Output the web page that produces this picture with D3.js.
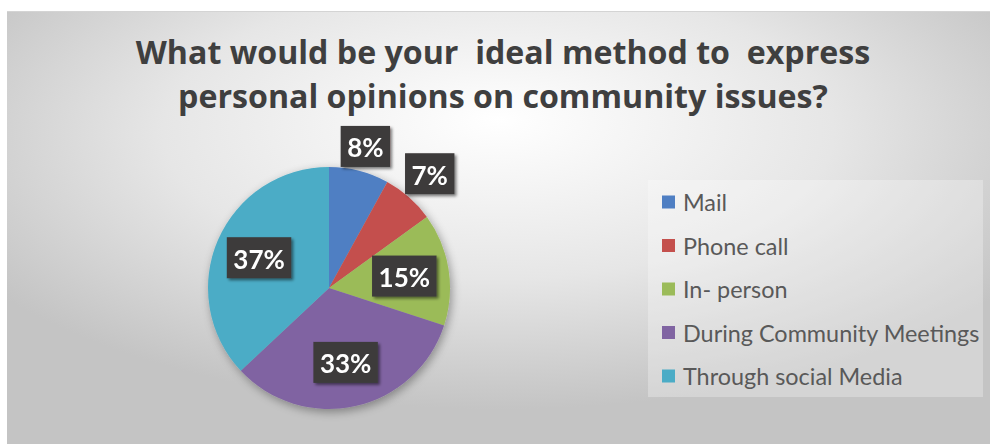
<!DOCTYPE html>
<html>
<head>
<meta charset="utf-8">
<script src="https://cdn.jsdelivr.net/npm/d3@7"></script>
<style>
  html, body { margin: 0; padding: 0; background: #ffffff; }
  svg { display: block; }
</style>
</head>
<body>
<svg id="chart" width="990" height="444"></svg>
<script>
// Survey results: preferred way to express opinions on community issues
const titleLines = [
  "What would be your  ideal method to  express",
  "personal opinions on community issues?"
];
const categories = [
  "Mail",
  "Phone call",
  "In- person",
  "During Community Meetings",
  "Through social Media"
];
const shares = [8, 7, 15, 33, 37];           // percent of respondents
const sliceColors = ["#4f7fc3", "#c4504d", "#9bbb59", "#8064a2", "#4bacc6"];

const W = 990, H = 444;
const svg = d3.select("#chart");
const defs = svg.append("defs");

// Chart area background: soft radial grey
const bg = defs.append("radialGradient")
  .attr("id", "bgGrad")
  .attr("cx", "0.5").attr("cy", "0.3").attr("r", "0.62")
  .attr("fx", "0.5").attr("fy", "0.25");
bg.append("stop").attr("offset", "0").attr("stop-color", "#ffffff");
bg.append("stop").attr("offset", "0.55").attr("stop-color", "#e6e6e6");
bg.append("stop").attr("offset", "1").attr("stop-color", "#c4c4c4");

// soft shadow behind the pie
const pieShadow = defs.append("filter").attr("id", "pieShadow")
  .attr("x", "-30%").attr("y", "-30%").attr("width", "160%").attr("height", "160%");
pieShadow.append("feGaussianBlur").attr("in", "SourceAlpha").attr("stdDeviation", 5).attr("result", "b");
pieShadow.append("feOffset").attr("in", "b").attr("dx", 2).attr("dy", 3).attr("result", "o");
pieShadow.append("feComponentTransfer").attr("in", "o").attr("result", "s")
  .append("feFuncA").attr("type", "linear").attr("slope", 0.35);
const pm = pieShadow.append("feMerge");
pm.append("feMergeNode").attr("in", "s");
pm.append("feMergeNode").attr("in", "SourceGraphic");

// small drop shadow for the data-label boxes
const boxShadow = defs.append("filter").attr("id", "boxShadow")
  .attr("x", "-30%").attr("y", "-30%").attr("width", "160%").attr("height", "160%");
boxShadow.append("feGaussianBlur").attr("in", "SourceAlpha").attr("stdDeviation", 1.5).attr("result", "b");
boxShadow.append("feOffset").attr("in", "b").attr("dx", 2).attr("dy", 2).attr("result", "o");
boxShadow.append("feComponentTransfer").attr("in", "o").attr("result", "s")
  .append("feFuncA").attr("type", "linear").attr("slope", 0.5);
const bm = boxShadow.append("feMerge");
bm.append("feMergeNode").attr("in", "s");
bm.append("feMergeNode").attr("in", "SourceGraphic");

// chart area
svg.append("rect")
  .attr("x", 7).attr("y", 11).attr("width", W - 7).attr("height", H - 11)
  .attr("fill", "url(#bgGrad)");
svg.append("line")
  .attr("x1", 7).attr("x2", W).attr("y1", 11.5).attr("y2", 11.5)
  .attr("stroke", "#d4d4d4").attr("stroke-width", 1);

// title, sized so the first line spans the intended width
const titleFont = "'Open Sans', Lato, sans-serif";
const titleTexts = svg.append("g").selectAll("text")
  .data(titleLines)
  .join("text")
  .attr("x", 503)
  .attr("y", (d, i) => 64 + i * 44)
  .attr("text-anchor", "middle")
  .style("white-space", "pre")
  .attr("font-family", titleFont)
  .attr("font-weight", 700)
  .attr("font-size", 32)
  .attr("fill", "#3f3f3f")
  .text(d => d);
const firstLineW = titleTexts.node().getComputedTextLength();
titleTexts.attr("font-size", 32 * 735 / firstLineW);

// pie
const cx = 329, cy = 288, R = 121;
const pie = d3.pie().sort(null).value(d => d);
const arcs = pie(shares);
const arc = d3.arc().innerRadius(0).outerRadius(R);

const pieG = svg.append("g").attr("transform", `translate(${cx},${cy})`);
pieG.append("g").attr("filter", "url(#pieShadow)")
  .selectAll("path")
  .data(arcs)
  .join("path")
  .attr("d", arc)
  .attr("fill", (d, i) => sliceColors[i]);

// data labels: inside for large slices, just outside the rim for small ones
const labelG = pieG.append("g");
arcs.forEach((a, i) => {
  const g = labelG.append("g").attr("filter", "url(#boxShadow)");
  const t = g.append("text")
    .attr("text-anchor", "middle")
    .attr("dominant-baseline", "central")
    .attr("font-family", "Lato, 'Open Sans', sans-serif")
    .attr("font-weight", 700)
    .attr("font-size", 26)
    .attr("fill", "#ffffff")
    .text(shares[i] + "%");
  const tw = t.node().getComputedTextLength();
  const bw = tw + 13, bh = 41;
  const mid = (a.startAngle + a.endAngle) / 2;
  const sx = Math.sin(mid), sy = -Math.cos(mid);
  let r;
  if (shares[i] >= 10) {
    r = R * 0.63;
  } else {
    const reach = Math.min(
      Math.abs(sx) > 1e-6 ? (bw / 2) / Math.abs(sx) : Infinity,
      Math.abs(sy) > 1e-6 ? (bh / 2) / Math.abs(sy) : Infinity
    );
    r = R + reach + 4;
  }
  const lx = sx * r, ly = sy * r;
  g.insert("rect", "text")
    .attr("x", lx - bw / 2).attr("y", ly - bh / 2)
    .attr("width", bw).attr("height", bh)
    .attr("fill", "#3c3b3b");
  t.attr("x", lx).attr("y", ly + 1);
});

// legend
const legend = svg.append("g");
legend.append("rect")
  .attr("x", 648).attr("y", 180).attr("width", 335).attr("height", 217)
  .attr("fill", "#ffffff").attr("fill-opacity", 0.28);
const item = legend.selectAll("g.item")
  .data(categories)
  .join("g")
  .attr("class", "item")
  .attr("transform", (d, i) => `translate(662, ${202 + i * 43.5})`);
item.append("rect")
  .attr("x", 0).attr("y", -6.5).attr("width", 13).attr("height", 13)
  .attr("fill", (d, i) => sliceColors[i]);
item.append("text")
  .attr("x", 21).attr("y", 0)
  .attr("dominant-baseline", "central")
  .attr("font-family", "Lato, 'Open Sans', sans-serif")
  .attr("font-size", 23.4)
  .attr("fill", "#595959")
  .text(d => d);
</script>
</body>
</html>
